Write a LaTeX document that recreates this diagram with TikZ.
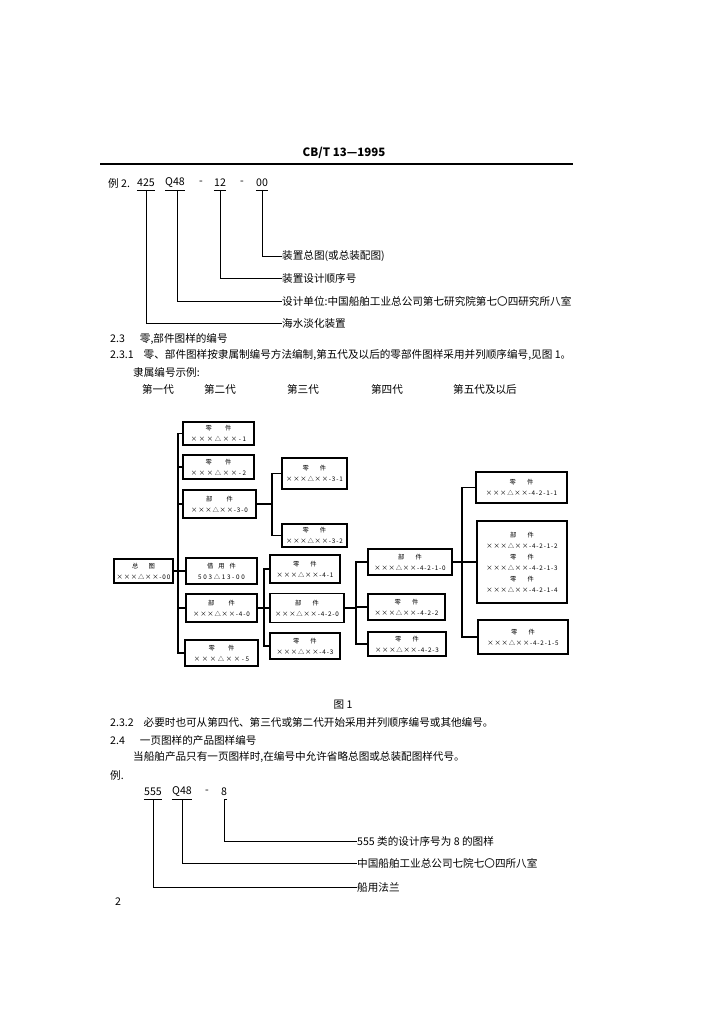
\documentclass[tikz,border=0pt]{standalone}
\usepackage{fontspec}
\newfontfamily\cjk{Noto Sans CJK SC}
\newfontfamily\bxA[LetterSpace=27]{Noto Sans CJK SC}
\newfontfamily\bxB[LetterSpace=13]{Noto Sans CJK SC}
\begin{document}
\begin{tikzpicture}[x=1pt,y=-1pt,
  txt/.style={font=\cjk\fontsize{10.6}{12}\selectfont, inner sep=0pt, anchor=west},
  ctxt/.style={font=\cjk\fontsize{10.6}{12}\selectfont, inner sep=0pt},
  box/.style={draw, line width=1.4pt, inner sep=0pt, align=center, font=\bxA\fontsize{6.3}{11}\selectfont},
  boxn/.style={box, font=\bxB\fontsize{6.3}{11}\selectfont},
  conn/.style={line width=1.1pt},
  lead/.style={line width=0.9pt}]
\useasboundingbox (0,0) rectangle (724,1024);
\fill[white] (0,0) rectangle (724,1024);

% header
\node[font=\cjk\bfseries\fontsize{11.5}{13}\selectfont, inner sep=0pt] (hdr) at (344,153) {CB/T 13—1995};
\coordinate (rl) at (100,164);
\coordinate (rr) at (573,164);
\draw[line width=1.2pt] (rl) -- (rr);

% example 1
\node[txt] (ex1) at (108,183) {例 2.};
\node[ctxt] (n425) at (146,183) {425};
\node[ctxt] (nQ) at (175,183) {Q48};
\node[ctxt] (d1a) at (201,183) {-};
\node[ctxt] (n12) at (220,183) {12};
\node[ctxt] (d1b) at (242,183) {-};
\node[ctxt] (n00) at (262,183) {00};
\coordinate (u1) at (0,190);
\foreach \n in {n425,nQ,n12,n00} \draw[lead] (\n.west |- u1) -- (\n.east |- u1);
\node[txt] (l1) at (282,256) {装置总图(或总装配图)};
\node[txt] (l2) at (282,278) {装置设计顺序号};
\node[txt] (l3) at (282,301) {设计单位:中国船舶工业总公司第七研究院第七〇四研究所八室};
\node[txt] (l4) at (282,323) {海水淡化装置};
\draw[lead] (n00 |- u1) -- (n00 |- l1) -- (l1.west);
\draw[lead] (n12 |- u1) -- (n12 |- l2) -- (l2.west);
\draw[lead] ([xshift=2pt]nQ.center |- u1) -- ([xshift=2pt]nQ.center |- l3) -- (l3.west);
\draw[lead] (n425 |- u1) -- (n425 |- l4) -- (l4.west);

% section text
\node[txt] (s1) at (110,339) {2.3\hspace{15pt}零,部件图样的编号};
\node[txt] (s2) at (110,355) {2.3.1\hspace{10pt}零、部件图样按隶属制编号方法编制,第五代及以后的零部件图样采用并列顺序编号,见图 1。};
\node[txt] (s3) at (133,372) {隶属编号示例:};
\node[ctxt] (g1) at (158,389) {第一代};
\node[ctxt] (g2) at (220,389) {第二代};
\node[ctxt] (g3) at (303,389) {第三代};
\node[ctxt] (g4) at (387,389) {第四代};
\node[ctxt] (g5) at (485,389) {第五代及以后};

% diagram boxes
\node[boxn, minimum width=59pt, minimum height=24pt] (b0) at (143.5,571) {总\hspace{10pt}图\\×××△××-00};
\node[box, minimum width=71pt, minimum height=23pt] (b1) at (218.5,433.5) {零\hspace{13pt}件\\×××△××-1};
\node[box, minimum width=71pt, minimum height=24pt] (b2) at (218.5,467) {零\hspace{13pt}件\\×××△××-2};
\node[boxn, minimum width=73pt, minimum height=28pt] (b3) at (219.5,504) {部\hspace{14pt}件\\×××△××-3-0};
\node[box, minimum width=71pt, minimum height=26pt] (b4) at (221.5,571) {借\hspace{5pt}用\hspace{5pt}件\\503△13-00};
\node[boxn, minimum width=71pt, minimum height=28pt] (b5) at (221.5,608) {部\hspace{14pt}件\\×××△××-4-0};
\node[box, minimum width=73pt, minimum height=26pt] (b6) at (221.5,653) {零\hspace{13pt}件\\×××△××-5};

\node[boxn, minimum width=65pt, minimum height=31pt] (c1) at (314.5,473.5) {零\hspace{11pt}件\\×××△××-3-1};
\node[boxn, minimum width=65pt, minimum height=23pt] (c2) at (314.5,535.5) {零\hspace{11pt}件\\×××△××-3-2};

\node[boxn, minimum width=70pt, minimum height=28pt] (d1) at (305,569) {零\hspace{11pt}件\\×××△××-4-1};
\node[boxn, minimum width=74pt, minimum height=29pt] (d2) at (307,608) {部\hspace{11pt}件\\×××△××-4-2-0};
\node[boxn, minimum width=70pt, minimum height=26pt] (d3) at (305,646) {零\hspace{11pt}件\\×××△××-4-3};

\node[boxn, minimum width=84pt, minimum height=26pt] (e1) at (410,562) {部\hspace{11pt}件\\×××△××-4-2-1-0};
\node[boxn, minimum width=77pt, minimum height=26pt] (e2) at (406.5,607) {零\hspace{11pt}件\\×××△××-4-2-2};
\node[boxn, minimum width=78pt, minimum height=24pt] (e3) at (407,644) {零\hspace{11pt}件\\×××△××-4-2-3};

\node[boxn, minimum width=91pt, minimum height=31pt] (f1) at (521.5,487.5) {零\hspace{11pt}件\\×××△××-4-2-1-1};
\node[boxn, minimum width=90pt, minimum height=82pt] (f2) at (522,562) {部\hspace{11pt}件\\×××△××-4-2-1-2\\零\hspace{11pt}件\\×××△××-4-2-1-3\\零\hspace{11pt}件\\×××△××-4-2-1-4};
\node[boxn, minimum width=90pt, minimum height=34pt] (f3) at (523,637) {零\hspace{11pt}件\\×××△××-4-2-1-5};

% trunks
\coordinate (t1) at (178,0);
\coordinate (t2) at (272,0);
\coordinate (t3) at (264,0);
\coordinate (t4) at (356,0);
\coordinate (t5) at (462,0);

\draw[conn] (b1.west) -- (b1.west -| t1) -- (b6.west -| t1) -- (b6.west);
\foreach \n in {b2,b3,b5} \draw[conn] (\n.west) -- (\n.west -| t1);
\draw[conn] (b0.east) -- (b4.west);
\draw[conn] (b3.east) -- (b3.east -| t2);
\draw[conn] (c1.west) -- (c1.west -| t2) -- (c2.west -| t2) -- (c2.west);
\draw[conn] (b5.east) -- (d2.west);
\draw[conn] (d1.west) -- (d1.west -| t3) -- (d3.west -| t3) -- (d3.west);
\draw[conn] (d2.east) -- (d2.east -| t4);
\draw[conn] (e1.west) -- (e1.west -| t4) -- (e3.west -| t4) -- (e3.west);
\draw[conn] (e2.west) -- (e2.west -| t4);
\draw[conn] (e1.east) -- (f2.west);
\draw[conn] (f1.west) -- (f1.west -| t5) -- (f3.west -| t5) -- (f3.west);

% caption and further text
\node[ctxt] (cap) at (343,705) {图 1};
\node[txt] (s4) at (110,722) {2.3.2\hspace{10pt}必要时也可从第四代、第三代或第二代开始采用并列顺序编号或其他编号。};
\node[txt] (s5) at (110,740) {2.4\hspace{15pt}一页图样的产品图样编号};
\node[txt] (s6) at (133,757) {当船舶产品只有一页图样时,在编号中允许省略总图或总装配图样代号。};
\node[txt] (s7) at (110,775) {例.};

% example 2
\node[ctxt] (n555) at (153,792) {555};
\node[ctxt] (nQ2) at (182,792) {Q48};
\node[ctxt] (d2a) at (207,792) {-};
\node[ctxt] (n8) at (224,792) {8};
\coordinate (u2) at (0,799);
\foreach \n in {n555,nQ2} \draw[lead] (\n.west |- u2) -- (\n.east |- u2);
\node[txt] (m1) at (357,841) {555 类的设计序号为 8 的图样};
\node[txt] (m2) at (357,863) {中国船舶工业总公司七院七〇四所八室};
\node[txt] (m3) at (357,887) {船用法兰};
\draw[lead] ([xshift=3pt]n8.center |- u2) -- (n8 |- u2) -- (n8 |- m1) -- (m1.west);
\draw[lead] (nQ2 |- u2) -- (nQ2 |- m2) -- (m2.west);
\draw[lead] (n555 |- u2) -- (n555 |- m3) -- (m3.west);

\node[ctxt] (pg) at (118,902) {2};
\end{tikzpicture}
\end{document}
